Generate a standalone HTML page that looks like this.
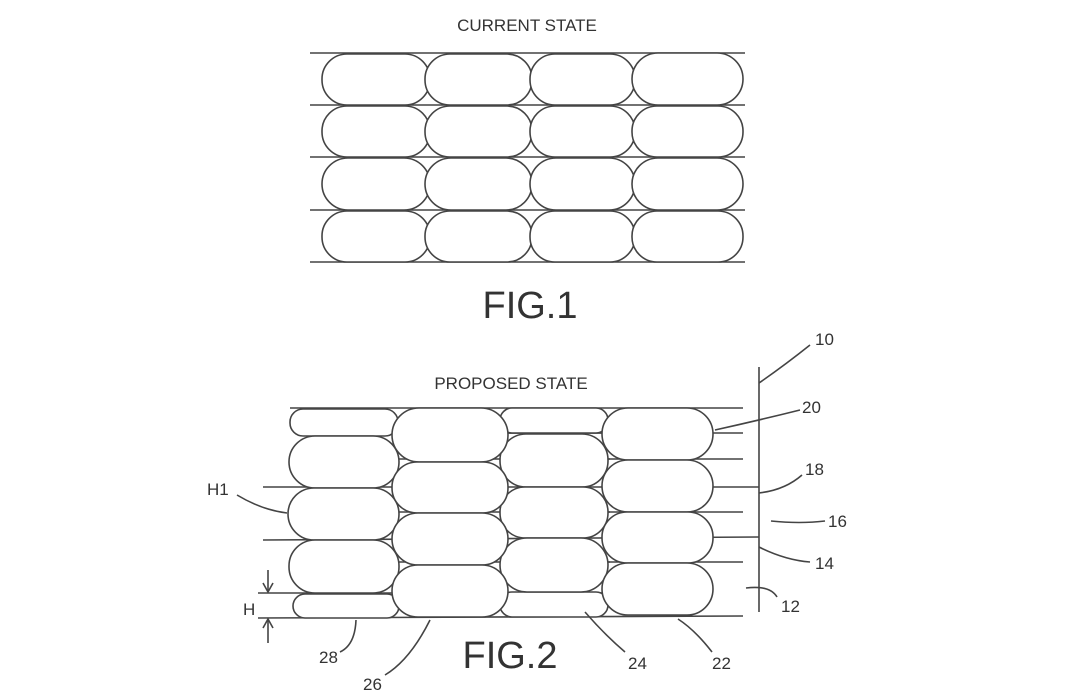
<!DOCTYPE html>
<html><head><meta charset="utf-8"><style>
html,body{margin:0;padding:0;background:#fff;}
svg{display:block;}
text{font-family:"Liberation Sans",sans-serif;fill:#333;}
</style></head><body>
<svg width="1070" height="700" viewBox="0 0 1070 700" xmlns="http://www.w3.org/2000/svg">
<g stroke="#444" stroke-width="1.6" fill="none">
<!-- FIG 1 -->
<line x1="310" y1="53" x2="745" y2="53"/>
<line x1="310" y1="105" x2="745" y2="105"/>
<line x1="310" y1="157" x2="745" y2="157"/>
<line x1="310" y1="210" x2="745" y2="210"/>
<line x1="310" y1="262" x2="745" y2="262"/>
<g fill="#fff">
<rect x="322" y="54" width="108" height="51" rx="25"/>
<rect x="425" y="54" width="107" height="51" rx="25"/>
<rect x="530" y="54" width="105" height="51" rx="25"/>
<rect x="632" y="53" width="111" height="52" rx="26"/>
<rect x="322" y="106" width="108" height="51" rx="25"/>
<rect x="425" y="106" width="107" height="51" rx="25"/>
<rect x="530" y="106" width="105" height="51" rx="25"/>
<rect x="632" y="106" width="111" height="51" rx="25"/>
<rect x="322" y="158" width="108" height="52" rx="26"/>
<rect x="425" y="158" width="107" height="52" rx="26"/>
<rect x="530" y="158" width="105" height="52" rx="26"/>
<rect x="632" y="158" width="111" height="52" rx="26"/>
<rect x="322" y="211" width="108" height="51" rx="25"/>
<rect x="425" y="211" width="107" height="51" rx="25"/>
<rect x="530" y="211" width="105" height="51" rx="25"/>
<rect x="632" y="211" width="111" height="51" rx="25"/>
</g>
<!-- FIG 2 lines -->
<line x1="290" y1="408" x2="743" y2="408"/>
<line x1="500" y1="433" x2="743" y2="433"/>
<line x1="500" y1="459" x2="743" y2="459"/>
<line x1="263" y1="487" x2="759" y2="487"/>
<line x1="500" y1="512" x2="743" y2="512"/>
<line x1="263" y1="540" x2="759" y2="537"/>
<line x1="500" y1="562" x2="743" y2="562"/>
<line x1="258" y1="593" x2="610" y2="593"/>
<line x1="258" y1="618" x2="743" y2="616"/>
<line x1="390" y1="433" x2="610" y2="433"/>
<line x1="390" y1="459" x2="610" y2="459"/>
<line x1="390" y1="512" x2="610" y2="512"/>
<line x1="390" y1="562" x2="610" y2="562"/>
<line x1="759" y1="367" x2="759" y2="612"/>
<g fill="#fff">
<!-- col1 -->
<rect x="290" y="409" width="108" height="27" rx="13"/>
<rect x="289" y="436" width="110" height="52" rx="26"/>
<rect x="288" y="488" width="111" height="52" rx="26"/>
<rect x="289" y="540" width="110" height="53" rx="26"/>
<rect x="293" y="594" width="106" height="24" rx="12"/>
<!-- col3 -->
<rect x="500" y="408" width="108" height="25" rx="12"/>
<rect x="500" y="592" width="108" height="25" rx="12"/>
<rect x="500" y="434" width="108" height="53" rx="26"/>
<rect x="500" y="487" width="108" height="51" rx="25"/>
<rect x="500" y="538" width="108" height="54" rx="27"/>
<!-- col2 -->
<rect x="392" y="408" width="116" height="54" rx="27"/>
<rect x="392" y="462" width="116" height="51" rx="25"/>
<rect x="392" y="513" width="116" height="52" rx="26"/>
<rect x="392" y="565" width="116" height="52" rx="26"/>
<!-- col4 -->
<rect x="602" y="408" width="111" height="52" rx="26"/>
<rect x="602" y="460" width="111" height="52" rx="26"/>
<rect x="602" y="512" width="111" height="51" rx="25"/>
<rect x="602" y="563" width="111" height="52" rx="26"/>
</g>
<!-- H arrows -->
<line x1="268" y1="570" x2="268" y2="592"/>
<path d="M263,583 L268,592 L273,583" />
<line x1="268" y1="619" x2="268" y2="643"/>
<path d="M263,628 L268,619 L273,628" />
<!-- leaders -->
<path d="M759,383 Q785,365 810,345"/>
<path d="M715,430 Q760,420 800,410"/>
<path d="M759,493 Q785,490 802,475"/>
<path d="M771,521 Q800,524 825,521"/>
<path d="M759,547 Q785,560 810,562"/>
<path d="M746,588 Q770,585 777,597"/>
<path d="M678,619 Q695,630 712,652"/>
<path d="M585,612 Q605,635 625,652"/>
<path d="M430,620 Q410,660 385,675"/>
<path d="M356,620 Q355,645 340,652"/>
<path d="M237,495 Q262,510 287,513"/>
</g>
<g font-size="17" text-anchor="middle">
<text x="527" y="31">CURRENT STATE</text>
<text x="511" y="389">PROPOSED STATE</text>
</g>
<text x="530" y="318" font-size="38" text-anchor="middle">FIG.1</text>
<text x="510" y="668" font-size="38" text-anchor="middle">FIG.2</text>
<g font-size="17">
<text x="815" y="345">10</text>
<text x="802" y="413">20</text>
<text x="805" y="475">18</text>
<text x="828" y="527">16</text>
<text x="815" y="569">14</text>
<text x="781" y="612">12</text>
<text x="712" y="669">22</text>
<text x="628" y="669">24</text>
<text x="363" y="690">26</text>
<text x="319" y="663">28</text>
<text x="207" y="495">H1</text>
<text x="243" y="615">H</text>
</g>
</svg>
</body></html>
